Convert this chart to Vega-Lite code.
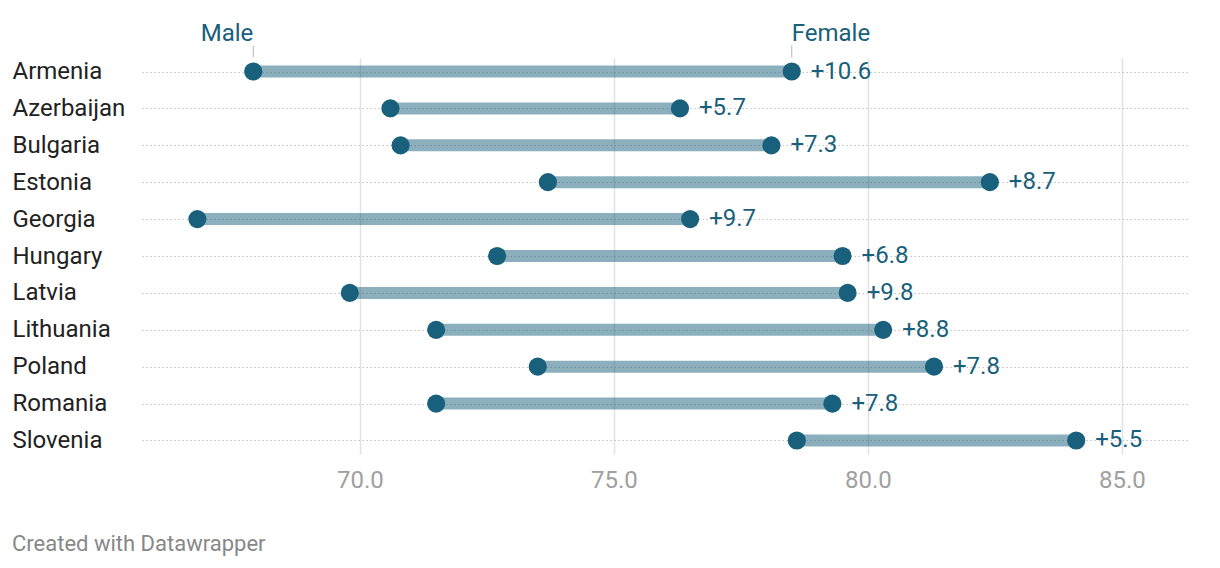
{
  "$schema": "https://vega.github.io/schema/vega-lite/v6.json",
  "autosize": {"type": "none"},
  "width": 1046,
  "height": 396,
  "padding": {"left": 142, "top": 58, "right": 32, "bottom": 114},
  "background": "white",
  "title": {
    "text": "Created with Datawrapper",
    "orient": "bottom",
    "anchor": "start",
    "frame": "bounds",
    "font": "Roboto",
    "fontSize": 22,
    "fontWeight": "normal",
    "color": "#888888",
    "offset": 42
  },
  "data": {
    "values": [
      {"country": "Armenia", "male": 67.9, "female": 78.5, "label": "+10.6"},
      {"country": "Azerbaijan", "male": 70.6, "female": 76.3, "label": "+5.7"},
      {"country": "Bulgaria", "male": 70.8, "female": 78.1, "label": "+7.3"},
      {"country": "Estonia", "male": 73.7, "female": 82.4, "label": "+8.7"},
      {"country": "Georgia", "male": 66.8, "female": 76.5, "label": "+9.7"},
      {"country": "Hungary", "male": 72.7, "female": 79.5, "label": "+6.8"},
      {"country": "Latvia", "male": 69.8, "female": 79.6, "label": "+9.8"},
      {"country": "Lithuania", "male": 71.5, "female": 80.3, "label": "+8.8"},
      {"country": "Poland", "male": 73.5, "female": 81.3, "label": "+7.8"},
      {"country": "Romania", "male": 71.5, "female": 79.3, "label": "+7.8"},
      {"country": "Slovenia", "male": 78.6, "female": 84.1, "label": "+5.5"}
    ]
  },
  "encoding": {
    "y": {
      "field": "country",
      "type": "nominal",
      "sort": null,
      "scale": {"type": "point", "padding": 0.366},
      "axis": {
        "title": null,
        "domain": false,
        "ticks": false,
        "labelAlign": "left",
        "labelPadding": 130,
        "labelFont": "Roboto",
        "labelFontSize": 24,
        "labelColor": "#222222",
        "grid": true,
        "gridColor": "#c4c4c4",
        "gridDash": [1.5, 2.5],
        "gridWidth": 1.2
      }
    }
  },
  "layer": [
    {
      "mark": {"type": "rule", "strokeWidth": 12, "color": "#18607b", "opacity": 0.5, "strokeCap": "butt"},
      "encoding": {
        "x": {
          "field": "male",
          "type": "quantitative",
          "scale": {"domain": [65.71, 86.3], "nice": false, "zero": false},
          "axis": {
            "title": null,
            "values": [70, 75, 80, 85],
            "format": ".1f",
            "domain": false,
            "ticks": false,
            "labelFont": "Roboto",
            "labelFontSize": 24,
            "labelColor": "#a0a0a0",
            "labelPadding": 14,
            "grid": true,
            "gridColor": "#e2e2e2",
            "gridWidth": 1.5
          }
        },
        "x2": {"field": "female"}
      }
    },
    {
      "mark": {"type": "circle", "size": 330, "color": "#18607b", "opacity": 1},
      "encoding": {"x": {"field": "male", "type": "quantitative"}}
    },
    {
      "mark": {"type": "circle", "size": 330, "color": "#18607b", "opacity": 1},
      "encoding": {"x": {"field": "female", "type": "quantitative"}}
    },
    {
      "mark": {"type": "text", "align": "left", "baseline": "middle", "dx": 19, "font": "Roboto", "fontSize": 24, "color": "#18607b"},
      "encoding": {
        "x": {"field": "female", "type": "quantitative"},
        "text": {"field": "label"}
      }
    },
    {
      "transform": [{"filter": "datum.country === 'Armenia'"}],
      "mark": {"type": "tick", "size": 12, "thickness": 1, "color": "#999999", "yOffset": -20},
      "encoding": {"x": {"field": "male", "type": "quantitative"}}
    },
    {
      "transform": [{"filter": "datum.country === 'Armenia'"}],
      "mark": {"type": "tick", "size": 12, "thickness": 1, "color": "#999999", "yOffset": -20},
      "encoding": {"x": {"field": "female", "type": "quantitative"}}
    },
    {
      "transform": [{"filter": "datum.country === 'Armenia'"}],
      "mark": {"type": "text", "text": "Male", "align": "right", "baseline": "middle", "dy": -38, "font": "Roboto", "fontSize": 24, "color": "#18607b"},
      "encoding": {"x": {"field": "male", "type": "quantitative"}}
    },
    {
      "transform": [{"filter": "datum.country === 'Armenia'"}],
      "mark": {"type": "text", "text": "Female", "align": "left", "baseline": "middle", "dy": -38, "font": "Roboto", "fontSize": 24, "color": "#18607b"},
      "encoding": {"x": {"field": "female", "type": "quantitative"}}
    }
  ],
  "config": {"view": {"stroke": null}}
}
